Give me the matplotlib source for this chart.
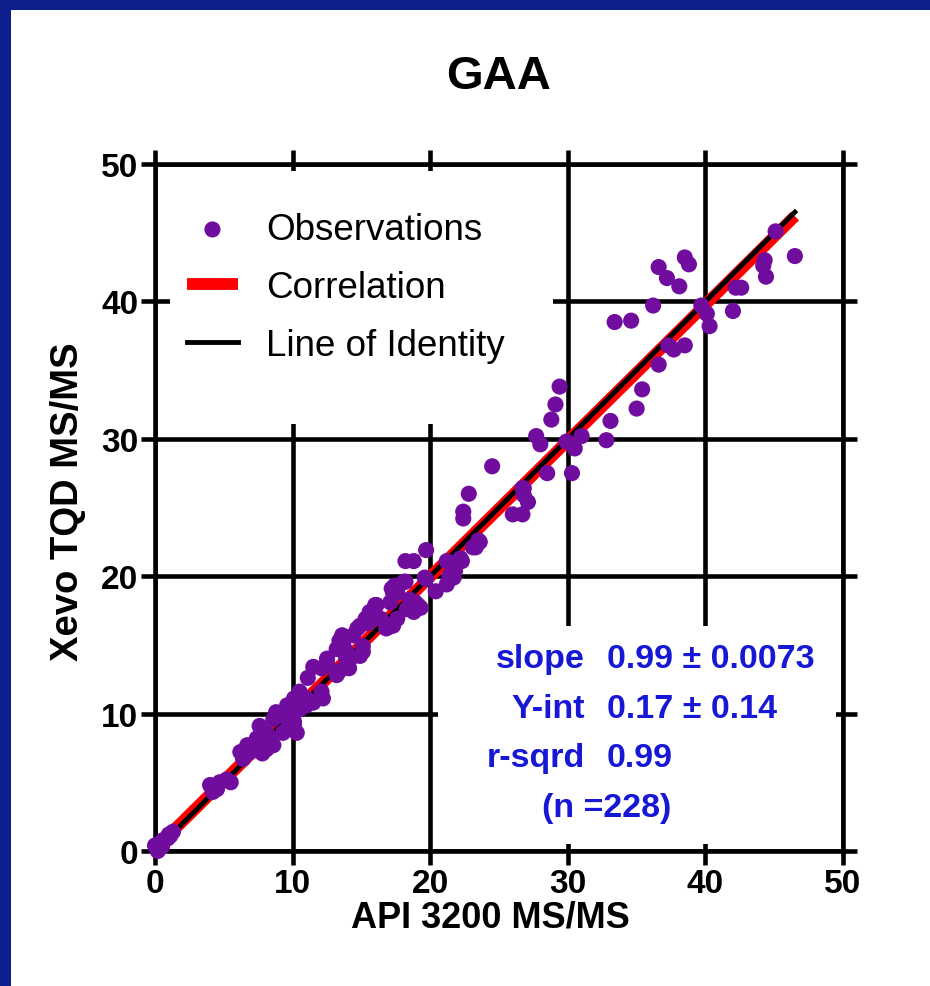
import numpy as np
import matplotlib
matplotlib.use("Agg")
import matplotlib.pyplot as plt
from matplotlib.patches import Rectangle

# observations (API 3200 vs Xevo TQD)
x_obs = [0.0, 0.1, 0.4, 0.6, 0.9, 1.1, 1.3, 0.2, 0.5, 1.0,
         4.0, 4.5, 4.2, 4.7, 5.2, 5.5,
         6.7, 6.2, 6.4, 6.9, 7.8, 8.1,
         7.6, 8.1, 8.4, 7.4, 7.9, 8.6,
         8.8, 8.6, 9.2, 9.8, 10.1, 9.6, 9.3, 10.3, 10.1,
         10.5, 10.1, 9.6, 11.0, 11.5, 12.1, 12.2, 11.0, 10.5,
         12.5, 11.5, 11.1, 12.1, 13.2, 13.4, 14.1, 12.5, 14.2, 15.1,
         13.4, 13.2, 13.7, 13.9, 14.9, 15.1, 13.7, 13.9,
         14.7, 14.4, 13.6, 14.9, 15.3, 15.6, 16.0, 16.1, 15.5, 16.4, 17.6, 17.0, 17.3, 16.8, 17.1,
         17.4, 18.1, 17.3, 19.1, 18.8, 18.3, 18.5, 19.1, 17.2, 17.6, 17.1, 18.9, 19.3, 17.6, 18.2,
         19.7, 18.2, 18.8, 21.2, 22.3, 21.8, 21.7, 21.2, 19.7, 20.4, 19.6, 21.4, 21.9, 22.2,
         23.3, 23.6, 23.5, 23.1,
         24.5, 22.8, 22.4, 22.4,
         26.7, 26.8, 27.1, 26.0, 26.7, 26.8,
         28.5, 30.3,
         27.7, 28.0, 28.8, 29.1, 29.4, 29.9, 30.5, 31.0, 32.8, 33.1, 35.0, 35.4,
         33.4, 34.6, 36.2, 36.6, 37.2, 38.1, 38.5, 38.8,
         37.3, 37.7, 38.5, 36.6,
         39.7, 40.1, 40.3, 42.0, 42.2, 42.6,
         44.3, 44.2, 44.4, 45.1, 46.5]
y_obs = [0.4, 0.2, 0.6, 0.8, 0.9, 1.1, 1.4, 0.0, 0.3, 1.2,
         4.8, 4.5, 4.3, 5.0, 5.2, 5.0,
         7.7, 7.2, 6.7, 7.2, 7.1, 7.4,
         9.1, 8.6, 8.2, 8.2, 7.8, 7.7,
         10.1, 9.6, 9.9, 9.6, 9.1, 8.9, 8.6, 8.6, 9.4,
         11.6, 11.1, 10.6, 11.1, 10.8, 11.6, 11.1, 10.6, 10.3,
         13.6, 13.4, 12.6, 13.3, 12.8, 13.1, 13.3, 14.0, 14.0, 14.5,
         15.3, 14.7, 14.5, 14.0, 14.2, 14.9, 14.9, 14.5,
         16.2, 15.7, 15.7, 16.4, 16.9, 17.4, 17.9, 17.9, 16.6, 16.9, 16.9, 16.3, 16.4, 16.2, 16.4,
         19.3, 19.6, 18.8, 17.9, 17.4, 17.6, 18.3, 17.7, 19.1, 18.8, 18.1, 18.1, 17.7, 19.1, 19.6,
         21.9, 21.1, 21.1, 21.1, 21.1, 20.4, 19.9, 19.4, 19.8, 18.9, 19.9, 20.0, 21.0, 21.3,
         22.1, 22.5, 22.6, 22.1,
         28.0, 26.0, 24.7, 24.2,
         26.4, 25.9, 25.4, 24.5, 24.5, 26.4,
         27.5, 27.5,
         30.2, 29.6, 31.4, 32.5, 33.8, 29.8, 29.3, 30.2, 29.9, 31.3, 32.2, 33.6,
         38.5, 38.6, 39.7, 42.5, 41.7, 41.1, 43.2, 42.7,
         36.8, 36.5, 36.8, 35.4,
         39.7, 39.1, 38.2, 39.3, 41.0, 41.0,
         43.0, 42.6, 41.8, 45.1, 43.3]

# regression results printed on the chart
slope, slope_se = 0.99, 0.0073
yint, yint_se = 0.17, 0.14
r_sqrd = 0.99
n_obs = 228

axis_ticks = [0, 10, 20, 30, 40, 50]

plt.rcParams["font.family"] = ["Liberation Sans", "DejaVu Sans"]
plt.rcParams["font.weight"] = "bold"

fig = plt.figure(figsize=(9.3, 9.87), dpi=100)
fig.patch.set_facecolor("white")
# blue slide border on left and top
fig.add_artist(Rectangle((0, 0), 11 / 930, 1, transform=fig.transFigure,
                         facecolor="#0d1f8c", edgecolor="none"))
fig.add_artist(Rectangle((0, 1 - 11 / 987), 1, 11 / 987, transform=fig.transFigure,
                         facecolor="#0d1f8c", edgecolor="none"))

ax = fig.add_axes([0.1667, 0.1368, 0.7398, 0.6960])
ax.set_xlim(0, 50)
ax.set_ylim(0, 50)
ax.set_xticks(axis_ticks)
ax.set_yticks(axis_ticks)
ax.set_axisbelow(True)
ax.grid(True, color="black", linewidth=3.3)
for sp in ax.spines.values():
    sp.set_linewidth(3.3)
ax.tick_params(direction="out", length=10, width=3.3, top=True, right=True,
               labelsize=24, pad=2)

# white boxes behind legend and stats (hide the grid there)
ax.add_patch(Rectangle((0.022, 0.622), 0.556, 0.368, transform=ax.transAxes,
                       facecolor="white", edgecolor="none", zorder=1))
ax.add_patch(Rectangle((0.411, 0.010), 0.579, 0.318, transform=ax.transAxes,
                       facecolor="white", edgecolor="none", zorder=1))

x_line = np.array([min(x_obs), max(x_obs)])
corr, = ax.plot(x_line, slope * x_line + yint, color="red", linewidth=8.5,
                solid_capstyle="butt", zorder=2, label="Correlation")
ident, = ax.plot(x_line, x_line, color="black", linewidth=3.5, zorder=3,
                 label="Line of Identity")
sc = ax.scatter(x_obs, y_obs, s=135, color="#700c9e", edgecolors="none",
                zorder=4, clip_on=False, label="Observations")

leg = ax.legend(handles=[sc, corr, ident], loc="upper left",
                bbox_to_anchor=(0.046, 0.93), frameon=False,
                prop={"size": 26.5, "weight": "normal"}, handlelength=1.4,
                handletextpad=0.75, labelspacing=0.62, borderpad=0,
                borderaxespad=0, scatterpoints=1)
leg.set_zorder(1.5)

ax.set_title("GAA", fontsize=34, fontweight="bold", pad=0, y=1.11)
ax.set_xlabel("API 3200 MS/MS", fontsize=26, fontweight="bold")
ax.set_ylabel("Xevo TQD MS/MS", fontsize=27.5, fontweight="bold")
ax.xaxis.set_label_coords(0.488, -0.071)
ax.yaxis.set_label_coords(-0.10, 0.51)

blue = "#1717d6"
stat_names = ["slope", "Y-int", "r-sqrd"]
stat_vals = [f"{slope} \u00b1 {slope_se}", f"{yint} \u00b1 {yint_se}", f"{r_sqrd}"]
rows_y = [0.2795, 0.2067, 0.1368]
for name, val, yy in zip(stat_names, stat_vals, rows_y):
    ax.text(0.625, yy, name, transform=ax.transAxes, ha="right", va="center",
            fontsize=24.5, fontweight="bold", color=blue, zorder=2)
    ax.text(0.657, yy, val, transform=ax.transAxes, ha="left", va="center",
            fontsize=24.5, fontweight="bold", color=blue, zorder=2)
ax.text(0.656, 0.064, f"(n ={n_obs})", transform=ax.transAxes, ha="center",
        va="center", fontsize=24.5, fontweight="bold", color=blue, zorder=2)

fig.savefig("out.png", dpi=100)
